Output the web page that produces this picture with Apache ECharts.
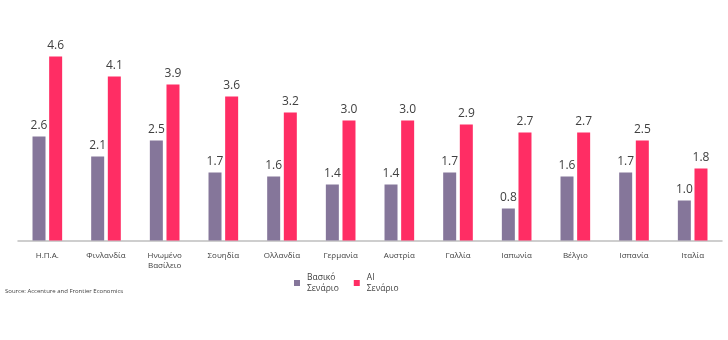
<!DOCTYPE html>
<html>
<head>
<meta charset="utf-8">
<script src="https://cdn.jsdelivr.net/npm/echarts@6/dist/echarts.min.js"></script>
<style>
html,body{margin:0;padding:0;background:#fff;}
#c{width:728px;height:340px;}
</style>
</head>
<body>
<div id="c"></div>
<script>
var categories = ['Η.Π.Α.', 'Φινλανδία', 'Ηνωμένο\nΒασίλειο', 'Σουηδία', 'Ολλανδία', 'Γερμανία', 'Αυστρία', 'Γαλλία', 'Ιαπωνία', 'Βέλγιο', 'Ισπανία', 'Ιταλία'];
var baseValues = [2.6, 2.1, 2.5, 1.7, 1.6, 1.4, 1.4, 1.7, 0.8, 1.6, 1.7, 1.0];
var aiValues = [4.6, 4.1, 3.9, 3.6, 3.2, 3.0, 3.0, 2.9, 2.7, 2.7, 2.5, 1.8];
var seriesNames = ['Βασικό Σενάριο', 'AI Σενάριο'];
var sourceText = 'Source: Accenture and Frontier Economics';

var chart = echarts.init(document.getElementById('c'), null, {renderer: 'canvas'});
var fontFam = '"Open Sans", "DejaVu Sans", sans-serif';
var labelCfg = {
  show: true,
  position: 'top',
  distance: 5,
  color: '#404040',
  fontSize: 12,
  fontFamily: fontFam,
  formatter: function (p) { return p.value.toFixed(1); }
};
chart.setOption({
  animation: false,
  grid: {left: 18, right: 6, top: 40.5, bottom: 99.5, containLabel: false},
  graphic: [{
    type: 'text', left: 5, top: 288,
    style: {text: sourceText, fontSize: 6, fill: '#404040', fontFamily: fontFam}
  }],
  legend: {
    left: 289, top: 267,
    icon: 'rect', itemWidth: 6, itemHeight: 6, itemGap: 15,
    data: seriesNames,
    formatter: function (n) { return n.replace(' ', '\n'); },
    textStyle: {fontSize: 8.5, color: '#404040', lineHeight: 11, fontFamily: fontFam, padding: [0, 0, 0, 2]}
  },
  xAxis: {
    type: 'category',
    data: categories,
    axisLine: {lineStyle: {color: '#bfbfbf', width: 1.5}},
    axisTick: {show: false},
    axisLabel: {fontSize: 8, color: '#404040', margin: 10, lineHeight: 10, interval: 0, fontFamily: fontFam}
  },
  yAxis: {
    type: 'value', min: 0, max: 5, show: false,
    splitLine: {show: false}
  },
  series: [
    {name: seriesNames[0], type: 'bar', data: baseValues, barWidth: 13, barGap: '28%',
     itemStyle: {color: '#85769a'}, label: labelCfg},
    {name: seriesNames[1], type: 'bar', data: aiValues, barWidth: 13, barGap: '28%',
     itemStyle: {color: '#ff2d64'}, label: labelCfg}
  ]
});
</script>
</body>
</html>
